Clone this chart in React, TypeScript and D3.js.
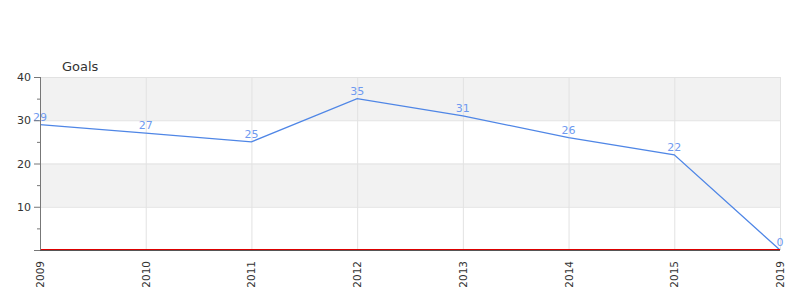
import React from "react";
import * as d3 from "d3";

const categories = ["2009", "2010", "2011", "2012", "2013", "2014", "2015", "2019"];
const goals = [29, 27, 25, 35, 31, 26, 22, 0];
const yMajorTicks = [10, 20, 30, 40];
const yMinorTicks = [5, 15, 25, 35];
const bands = [[30, 40], [10, 20]];

export default function App() {
  const W = 800, H = 300;
  const left = 40, right = 780, top = 77, bottom = 250;
  const x = d3.scalePoint<string>().domain(categories).range([left, right]);
  const y = d3.scaleLinear().domain([0, 40]).range([bottom, top]);
  const line = d3.line<number>().x((_, i) => x(categories[i])!).y((d) => y(d));
  const font = "'DejaVu Sans', sans-serif";
  return (
    <svg width={W} height={H} style={{ position: "absolute", left: 0, top: 0 }} fontFamily={font}>
      <rect x={0} y={0} width={W} height={H} fill="#fff" />
      {bands.map(([a, b], i) => (
        <rect key={i} x={left} y={y(b)} width={right - left} height={y(a) - y(b)} fill="#f2f2f2" />
      ))}
      {yMajorTicks.map((t) => (
        <line key={t} x1={left} x2={right} y1={y(t) + 0.5} y2={y(t) + 0.5} stroke="#e2e2e2" />
      ))}
      {categories.map((c) => (
        <line key={c} x1={x(c)! + 0.5} x2={x(c)! + 0.5} y1={top} y2={bottom} stroke="#e2e2e2" />
      ))}
      <path d={line(goals)!} fill="none" stroke="#4f86e6" strokeWidth={1.3} />
      {goals.map((v, i) => (
        <text key={i} x={x(categories[i])!} y={y(v) - 4} textAnchor="middle" fontSize={11} fill="#6f9af0">
          {v}
        </text>
      ))}
      <line x1={left} x2={right} y1={bottom - 0.5} y2={bottom - 0.5} stroke="#d00" strokeWidth={1} />
      <line x1={left} x2={right} y1={bottom + 0.5} y2={bottom + 0.5} stroke="#555" strokeWidth={1} />
      <line x1={left + 0.5} x2={left + 0.5} y1={top} y2={bottom} stroke="#777" />
      {[0, ...yMajorTicks].map((t) => (
        <line key={t} x1={left - 6} x2={left} y1={y(t) + 0.5} y2={y(t) + 0.5} stroke="#777" />
      ))}
      {yMinorTicks.map((t) => (
        <line key={t} x1={left - 3} x2={left} y1={y(t) + 0.5} y2={y(t) + 0.5} stroke="#777" />
      ))}
      {yMajorTicks.map((t) => (
        <text key={t} x={left - 9} y={y(t) + 4} textAnchor="end" fontSize={11} fill="#333">
          {t}
        </text>
      ))}
      {categories.map((c) => (
        <text
          key={c}
          transform={`translate(${x(c)! + 4},${bottom + 11}) rotate(-90)`}
          textAnchor="end"
          fontSize={10.5}
          fill="#333"
        >
          {c}
        </text>
      ))}
      <text x={62} y={71} fontSize={13} fill="#333">
        Goals
      </text>
    </svg>
  );
}
